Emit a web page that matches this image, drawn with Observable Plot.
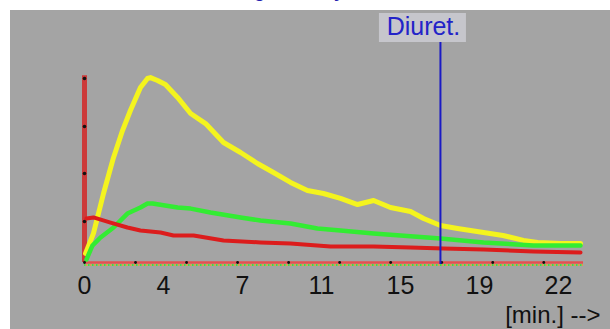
<!DOCTYPE html>
<html>
<head>
<meta charset="utf-8">
<script src="https://cdn.jsdelivr.net/npm/d3@7"></script>
<script src="https://cdn.jsdelivr.net/npm/@observablehq/plot@0.6"></script>
<style>
  html, body { margin: 0; padding: 0; background: #ffffff; }
  #wrap { position: relative; width: 610px; height: 329px; overflow: hidden; background: #ffffff; }
  #title { position: absolute; left: 236px; top: -18px; font: bold 18px "Liberation Sans", Arial, sans-serif; color: #2222b0; white-space: nowrap; line-height: 18px; }
  #chart { position: absolute; left: 10px; top: 10px; }
</style>
</head>
<body>
<div id="wrap">
  <div id="title">Right kidney</div>
  <div id="chart"></div>
</div>
<script>
// Time in minutes, activity in relative units (peak of yellow ≈ 100)
const yellowT = [0.05,0.42,0.89,1.36,1.78,2.15,2.62,2.95,3.09,3.42,3.79,4.36,4.97,5.67,6.51,7.31,8.10,8.85,9.65,10.44,11.19,11.99,12.79,13.54,14.33,15.27,15.88,16.67,17.47,18.69,19.60,20.56,21.22,22.30,23.23];
const yellowV = [4.9,15.8,37.5,57.1,71.7,82.6,95.1,100,100.5,98.9,96.7,89.7,81.0,75.5,65.2,59.8,53.8,48.9,43.5,39.1,37.5,34.8,31.5,33.7,29.9,27.7,23.9,20.1,18.5,16.3,14.7,12.0,10.9,10.3,10.3];

const greenT = [0.09,0.37,0.75,1.36,2.01,2.62,2.95,3.19,4.36,4.97,5.90,7.31,8.24,9.65,10.91,11.99,13.54,14.80,16.67,18.69,21.03,23.23];
const greenV = [1.6,9.2,13.6,19.0,26.6,29.9,32.1,32.1,29.9,29.3,27.2,24.5,22.8,21.2,18.5,17.4,15.8,14.7,13.0,10.9,9.2,9.2];

const redT = [0.09,0.42,1.22,2.01,2.62,3.56,4.17,5.11,6.51,8.24,9.65,11.52,13.54,15.27,16.81,18.69,21.03,23.23];
const redV = [23.9,24.5,21.7,19.0,17.4,16.3,14.7,14.7,12.0,10.9,10.3,8.7,8.7,8.2,7.6,7.1,6.0,5.4];

const diureticTime = 16.67;
const diureticLabel = "Diuret.";

const xTickValues = [0, 3.7, 7.4, 11.1, 14.8, 18.5, 22.2];
const xTickLabels = ["0", "4", "7", "11", "15", "19", "22"];
const minorTicks = [0, 2.39, 4.78, 7.17, 9.56, 11.95, 14.34, 16.73, 19.12, 21.51];
const yTickValues = [22.3, 48.4, 73.9, 100];
const xLabel = "[min.] -->";

const toRows = (T, V) => T.map((t, i) => ({t, v: V[i]}));
const yellow = toRows(yellowT, yellowV);
const green = toRows(greenT, greenV);
const red = toRows(redT, redV);

const font = '"Liberation Sans", Arial, sans-serif';

const chart = Plot.plot({
  width: 600,
  height: 319,
  marginLeft: 74,
  marginRight: 27,
  marginTop: 68,
  marginBottom: 67,
  style: { background: "#a4a4a4", fontFamily: font, overflow: "visible" },
  x: { domain: [0, 23.37], axis: null, label: null },
  y: { domain: [0, 100], axis: null, label: null },
  marks: [
    // label box for the diuretic marker
    Plot.rect([diureticTime], { x1: d => d, x2: d => d, insetLeft: -61, insetRight: -26, insetTop: -65, insetBottom: 220, fill: "#c6c6cc" }),
    Plot.text([diureticLabel], { x: diureticTime, frameAnchor: "top", dx: -17, dy: -61, lineAnchor: "top", text: d => d, fill: "#2323c8", fontSize: 25, fontFamily: font }),
    // x axis baseline
    Plot.ruleY([0], { stroke: "#e45050", strokeWidth: 2.5 }),
    Plot.ruleY([0], { dy: 2.5, stroke: "#40e040", strokeWidth: 2, strokeDasharray: "1.5,2.5" }),
    Plot.ruleY([0], { dy: 2.5, stroke: "#e0a040", strokeWidth: 2, strokeDasharray: "1.5,2.5", strokeDashoffset: 2 }),
    // y axis bar
    Plot.ruleX([0], { y1: 0, y2: 101.5, stroke: "#cc3a3a", strokeWidth: 5 }),
    Plot.dot(yTickValues, { x: 0, y: d => d, r: 1.8, fill: "#111" }),
    // series
    Plot.line(yellow, { x: "t", y: "v", stroke: "#f4f41e", strokeWidth: 5 }),
    Plot.line(green, { x: "t", y: "v", stroke: "#33ec33", strokeWidth: 4.5 }),
    Plot.line(red, { x: "t", y: "v", stroke: "#dc1c1c", strokeWidth: 4 }),
    // minor tick dots on x axis
    Plot.dot(minorTicks, { x: d => d, y: 0, r: 1.4, fill: "#111" }),
    // diuretic marker line
    Plot.ruleX([diureticTime], { stroke: "#1a1ac4", strokeWidth: 2, insetTop: -36, insetBottom: -2 }),
    // x tick labels
    Plot.axisX(xTickValues, { tickSize: 0, tickPadding: 14, label: null, tickFormat: (d, i) => xTickLabels[i], fontSize: 25, fill: "#111", fontFamily: font }),
    // x axis label
    Plot.text([xLabel], { frameAnchor: "bottom-right", dx: 17, dy: 43, lineAnchor: "top", textAnchor: "end", text: d => d, fontSize: 24, fill: "#111", fontFamily: font, style: "letter-spacing: 2.5px" })
  ]
});
document.getElementById("chart").appendChild(chart);
</script>
</body>
</html>
